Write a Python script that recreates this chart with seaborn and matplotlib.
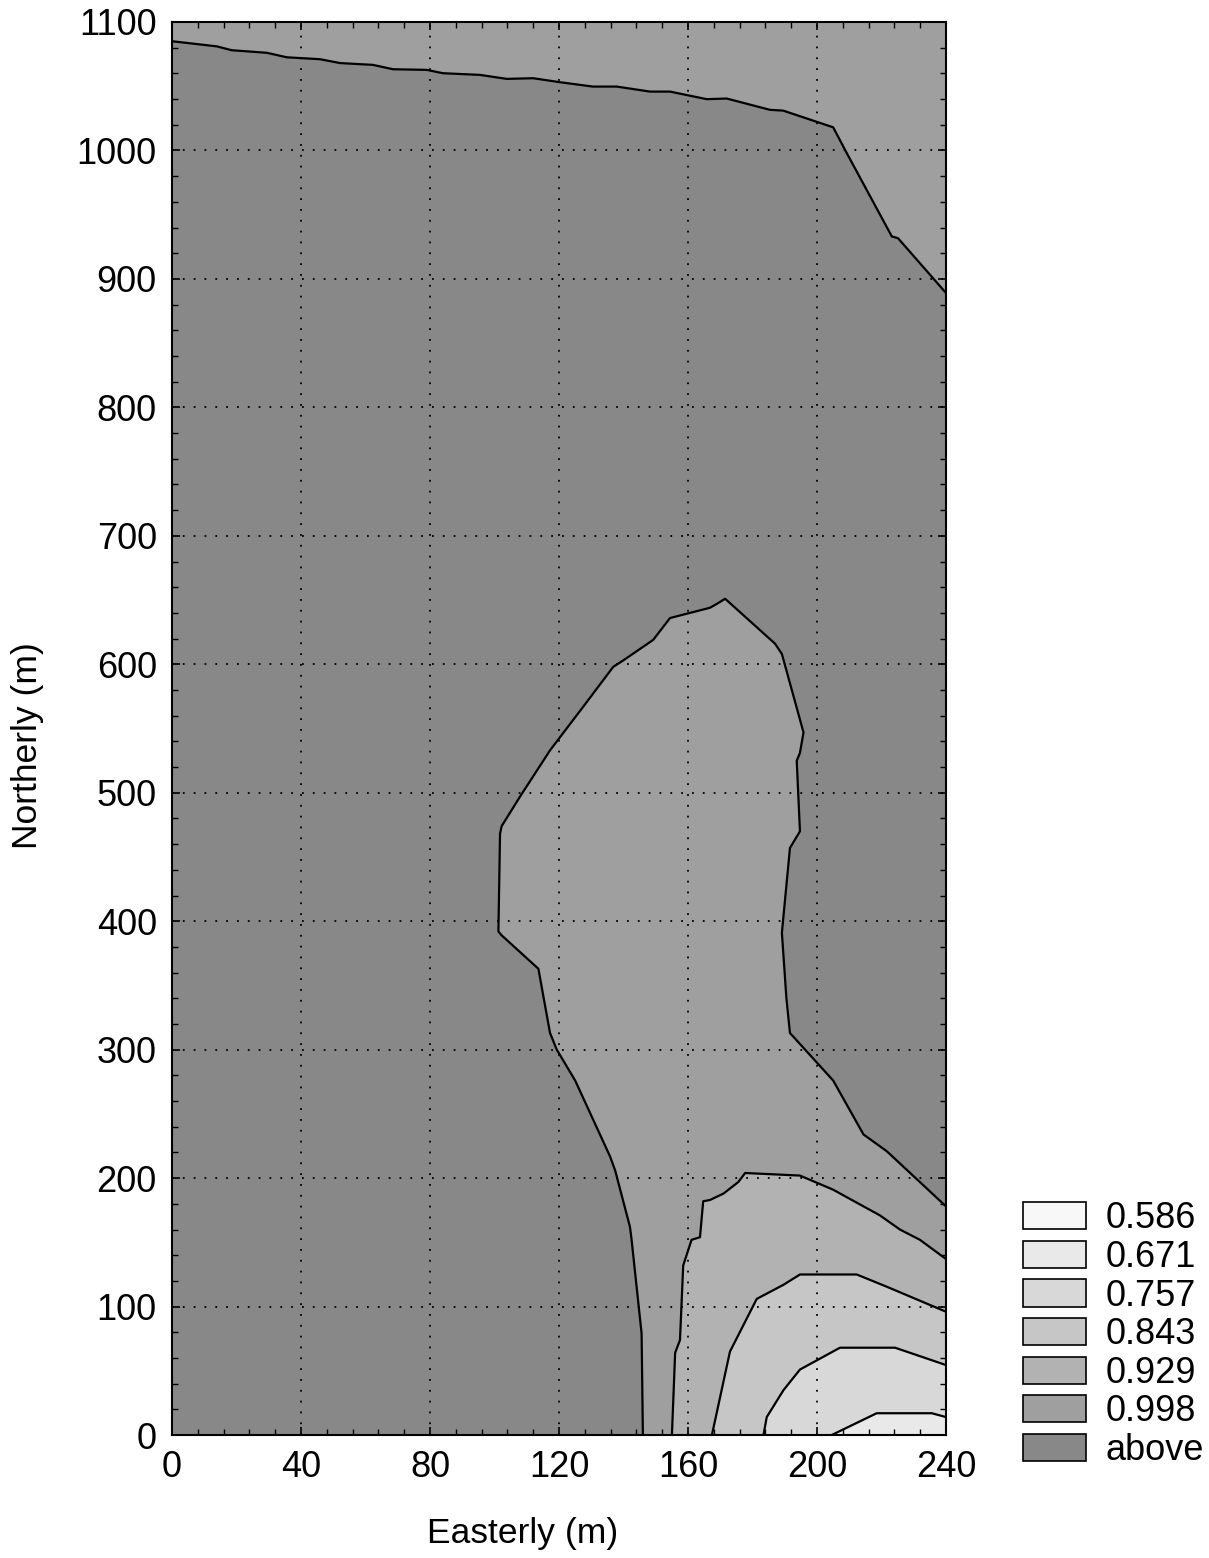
import matplotlib
matplotlib.use("Agg")
import matplotlib.pyplot as plt
import seaborn as sns
from matplotlib.patches import Patch
from matplotlib.ticker import MultipleLocator

# contour classes (legend order) and their grey fills
levels = ["0.586", "0.671", "0.757", "0.843", "0.929", "0.998", "above"]
greys = ["#f8f8f8", "#e9e9e9", "#d8d8d8", "#c6c6c6", "#b2b2b2", "#9f9f9f", "#888888"]

# contour line near the top (0.998 level), west -> east
top_x = [0, 13.9, 18.5, 29.4, 35.6, 45.9, 52.1, 62.3, 68.5, 79, 84, 95.5, 103.8, 112,
         120.3, 130.5, 137.9, 148.2, 154.4, 165.8, 172, 185.4, 189.5, 205, 209.2, 223.2,
         225.1, 240]
top_y = [1085, 1081, 1078, 1076, 1072.5, 1071, 1068, 1066.6, 1063.2, 1062.7, 1060.1,
         1058.8, 1055.7, 1056.2, 1053.1, 1049.7, 1049.7, 1045.8, 1045.8, 1039.9, 1040.4,
         1031.6, 1031, 1018, 998, 933, 931.7, 889]

# tongue (0.998 level), from the bottom edge round to the east edge
tongue_x = [146, 145.6, 142.5, 142, 137.4, 135.8, 125, 119.3, 117.2, 113.6, 102.2, 101.2,
            101.7, 102.2, 107.9, 117.2, 127.5, 136.8, 139.9, 149.2, 154.4, 166.8, 168.9,
            171.5, 187, 189.1, 195.8, 194.7, 193.7, 194.7, 191.6, 189.1, 190.5, 191.6,
            205, 214.4, 221.6, 240]
tongue_y = [0, 79, 152, 162, 206, 217, 276, 300, 313, 363, 389, 392, 468, 474, 497, 533,
            567, 598, 603, 619, 636, 644, 647, 651, 616, 608, 547, 531, 525, 470, 457,
            391, 340, 313, 276, 234, 221, 178]

# 0.929 level
c929_x = [155, 156, 157.5, 158.5, 161.1, 163.7, 164.7, 166.8, 171, 175.6, 177.7, 194.7,
          205, 219.5, 225.7, 231.9, 240]
c929_y = [0, 64, 74, 132, 152, 154, 182, 183, 188, 197, 204, 202, 191, 171, 160, 152, 137]

# 0.843 level
c843_x = [167.4, 173, 181.3, 189.6, 194.7, 212.3, 221.6, 240]
c843_y = [0, 65, 106, 117, 125, 125, 115.5, 96]

# 0.757 level
c757_x = [183.4, 184.4, 189.6, 194.7, 207.1, 224.2, 240]
c757_y = [0, 14, 35, 51, 68, 68, 54.5]

# 0.671 level
c671_x = [204.5, 218.5, 235.6, 240]
c671_y = [0, 17, 17, 14]

sns.set_style("ticks")
plt.rcParams["font.family"] = ["Liberation Sans", "DejaVu Sans"]
plt.rcParams["text.color"] = "black"
plt.rcParams["axes.labelcolor"] = "black"
plt.rcParams["xtick.color"] = "black"
plt.rcParams["ytick.color"] = "black"

fig = plt.figure(figsize=(12.09, 15.58), dpi=100)
ax = fig.add_axes([0.1423, 0.0789, 0.6402, 0.907])
ax.set_facecolor(greys[6])

# strip along the top edge
ax.fill_between(top_x, top_y, 1100, color=greys[5], lw=0)

# nested regions that close on the south-east corner
nested = [(tongue_x, tongue_y, greys[5]),
          (c929_x, c929_y, greys[4]),
          (c843_x, c843_y, greys[3]),
          (c757_x, c757_y, greys[2]),
          (c671_x, c671_y, greys[1])]
for xs, ys, col in nested:
    ax.fill(list(xs) + [240], list(ys) + [0], color=col, lw=0)

for xs, ys in [(top_x, top_y), (tongue_x, tongue_y), (c929_x, c929_y),
               (c843_x, c843_y), (c757_x, c757_y), (c671_x, c671_y)]:
    sns.lineplot(x=xs, y=ys, sort=False, estimator=None, color="black", lw=1.6, ax=ax)

ax.set_xlim(0, 240)
ax.set_ylim(0, 1100)
ax.xaxis.set_major_locator(MultipleLocator(40))
ax.xaxis.set_minor_locator(MultipleLocator(8))
ax.yaxis.set_major_locator(MultipleLocator(100))
ax.yaxis.set_minor_locator(MultipleLocator(20))
ax.tick_params(which="both", direction="in", top=True, right=True, color="black")
ax.tick_params(which="major", length=6, width=1.2, labelsize=26, pad=11)
ax.tick_params(which="minor", length=4, width=1)
ax.grid(True, which="major", color="black", linestyle=(0, (1, 5)), lw=1.3)
ax.set_axisbelow(False)
for s in ax.spines.values():
    s.set_color("black")
    s.set_linewidth(1.5)

ax.set_xlabel("Easterly (m)", fontsize=25.5)
ax.set_ylabel("Northerly (m)", fontsize=25.5)
ax.xaxis.set_label_coords(0.4535, -0.058)
ax.yaxis.set_label_coords(-0.165, 0.488)

handles = [Patch(facecolor=g, edgecolor="black", lw=1.2) for g in greys]
fig.legend(handles, levels, loc="upper left", bbox_to_anchor=(0.831, 0.2405),
           frameon=False, fontsize=26, handlelength=1.75, handleheight=0.78,
           handletextpad=0.55, labelspacing=0.1, borderpad=0)

fig.savefig("out.png", dpi=100)
